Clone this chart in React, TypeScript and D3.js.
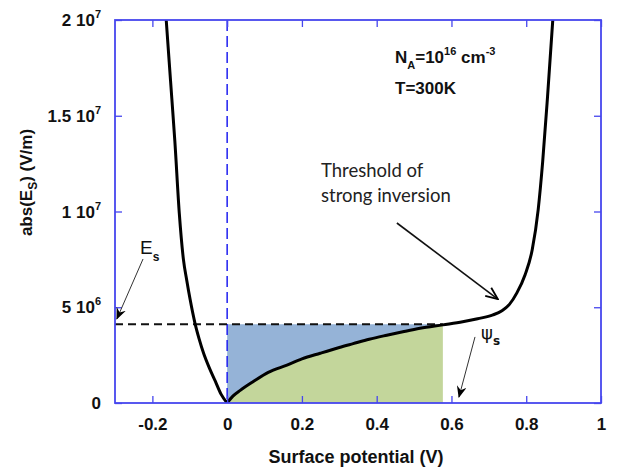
import React, { useRef, useEffect } from "react";
import * as d3 from "d3";

// accumulation branch (psi < 0)
const leftPsi = [-0.163, -0.155, -0.148, -0.14, -0.128, -0.117, -0.108, -0.099, -0.086, -0.075, -0.063, -0.048, -0.032, -0.016, 0];
const leftField = [2.0e7, 1.78e7, 1.59e7, 1.37e7, 9.9e6, 7.5e6, 6.4e6, 5.4e6, 4.16e6, 3.35e6, 2.6e6, 1.85e6, 1.15e6, 4.5e5, 0];

// depletion / inversion branch (psi > 0)
const rightPsi = [0, 0.016, 0.035, 0.07, 0.11, 0.16, 0.2, 0.249, 0.3, 0.337, 0.38, 0.427, 0.47, 0.516, 0.577, 0.63, 0.67, 0.711, 0.735, 0.755, 0.775, 0.797, 0.816, 0.832, 0.844, 0.857, 0.871];
const rightField = [0, 3.7e5, 6.6e5, 1.12e6, 1.6e6, 1.98e6, 2.3e6, 2.6e6, 2.9e6, 3.1e6, 3.33e6, 3.54e6, 3.72e6, 3.9e6, 4.08e6, 4.24e6, 4.4e6, 4.6e6, 4.82e6, 5.15e6, 5.75e6, 6.7e6, 8.0e6, 1.01e7, 1.26e7, 1.6e7, 2.0e7];

const xTicks = [-0.2, 0, 0.2, 0.4, 0.6, 0.8, 1];
const xTickLabels = ["-0.2", "0", "0.2", "0.4", "0.6", "0.8", "1"];
const yTicks = [0, 5e6, 1e7, 1.5e7, 2e7];
const yTickMantissa = ["0", "5", "1", "1.5", "2"];
const yTickExponent = ["", "6", "7", "7", "7"];

// operating point
const surfacePsi = 0.577;
const surfaceField = 4.11e6;

const FRAME = "#4646ee";
const FONT = "'Liberation Sans', Arial, sans-serif";

const App = () => {
  const svgRef = useRef<SVGSVGElement>(null);

  useEffect(() => {
    const svg = d3.select(svgRef.current);
    svg.selectAll("*").remove();

    const margin = { top: 20, left: 115, right: 16, bottom: 69 };
    const W = 617, H = 472;

    const x = d3.scaleLinear().domain([-0.3, 1]).range([margin.left, W - margin.right]);
    const y = d3.scaleLinear().domain([0, 2e7]).range([H - margin.bottom, margin.top]);

    const left = leftPsi.map((p, i) => ({ psi: p, e: leftField[i] }));
    const right = rightPsi.map((p, i) => ({ psi: p, e: rightField[i] }));
    const filled = right.filter((d) => d.psi <= surfacePsi);

    // markers
    const defs = svg.append("defs");
    defs.append("clipPath").attr("id", "plotclip")
      .append("rect")
      .attr("x", x(-0.3)).attr("y", y(2e7))
      .attr("width", x(1) - x(-0.3)).attr("height", y(0) - y(2e7));
    defs.append("marker")
      .attr("id", "barb").attr("viewBox", "0 0 12 10")
      .attr("refX", 11).attr("refY", 5)
      .attr("markerWidth", 12).attr("markerHeight", 10)
      .attr("markerUnits", "userSpaceOnUse")
      .attr("orient", "auto")
      .append("path").attr("d", "M0,0 L12,5 L0,10 L4,5 Z").attr("fill", "black");
    defs.append("marker")
      .attr("id", "openarrow").attr("viewBox", "0 0 14 12")
      .attr("refX", 13).attr("refY", 6)
      .attr("markerWidth", 14).attr("markerHeight", 12)
      .attr("markerUnits", "userSpaceOnUse")
      .attr("orient", "auto")
      .append("path").attr("d", "M1,1 L13,6 L1,11").attr("fill", "none")
      .attr("stroke", "black").attr("stroke-width", 1.8);

    const plot = svg.append("g").attr("clip-path", "url(#plotclip)");

    // blue area: between E_s level and curve
    plot.append("path")
      .datum(filled)
      .attr("fill", "#95b3d7")
      .attr("d", d3.area<any>()
        .x((d) => x(d.psi))
        .y0(y(surfaceField))
        .y1((d) => y(d.e))
        .curve(d3.curveMonotoneX));

    // green area: under the curve
    plot.append("path")
      .datum(filled)
      .attr("fill", "#c3d69b")
      .attr("d", d3.area<any>()
        .x((d) => x(d.psi))
        .y0(y(0))
        .y1((d) => y(d.e))
        .curve(d3.curveMonotoneX));

    // vertical blue dashed line at psi = 0
    plot.append("line")
      .attr("x1", x(0)).attr("x2", x(0))
      .attr("y1", y(2e7)).attr("y2", y(0))
      .attr("stroke", "#1f1ff0").attr("stroke-width", 1.5)
      .attr("stroke-dasharray", "11,5");

    // horizontal black dashed line at E_s
    plot.append("line")
      .attr("x1", x(-0.3)).attr("x2", x(surfacePsi))
      .attr("y1", y(surfaceField)).attr("y2", y(surfaceField))
      .attr("stroke", "#111").attr("stroke-width", 2)
      .attr("stroke-dasharray", "8,5");

    const line = d3.line<any>()
      .x((d) => x(d.psi))
      .y((d) => y(d.e))
      .curve(d3.curveMonotoneX);

    [left, right].forEach((branch) => {
      plot.append("path")
        .datum(branch)
        .attr("fill", "none")
        .attr("stroke", "black")
        .attr("stroke-width", 3)
        .attr("stroke-linejoin", "round")
        .attr("d", line);
    });

    // axes: inward ticks on all four sides
    const tick = 7;
    const gB = svg.append("g").attr("transform", `translate(0,${y(0)})`)
      .call(d3.axisBottom(x).tickValues(xTicks).tickSize(-tick).tickPadding(15)
        .tickFormat((d: any, i: number) => xTickLabels[i]));
    const gT = svg.append("g").attr("transform", `translate(0,${y(2e7)})`)
      .call(d3.axisTop(x).tickValues(xTicks).tickSize(-tick).tickFormat(() => ""));
    const gL = svg.append("g").attr("transform", `translate(${x(-0.3)},0)`)
      .call(d3.axisLeft(y).tickValues(yTicks).tickSize(-tick).tickFormat(() => ""));
    const gR = svg.append("g").attr("transform", `translate(${x(1)},0)`)
      .call(d3.axisRight(y).tickValues(yTicks).tickSize(-tick).tickFormat(() => ""));
    [gB, gT, gL, gR].forEach((g) => {
      g.select(".domain").remove();
      g.selectAll(".tick line").attr("stroke", FRAME).attr("stroke-width", 1.3);
    });
    gB.selectAll(".tick text")
      .attr("fill", "#111")
      .style("font-family", FONT)
      .style("font-weight", "bold")
      .style("font-size", "17px");

    // frame
    svg.append("rect")
      .attr("x", x(-0.3)).attr("y", y(2e7))
      .attr("width", x(1) - x(-0.3)).attr("height", y(0) - y(2e7))
      .attr("fill", "none").attr("stroke", FRAME).attr("stroke-width", 1.8);

    // y tick labels with powers of ten
    yTicks.forEach((v, i) => {
      const t = svg.append("text")
        .attr("x", x(-0.3) - 14).attr("y", y(v) + 6)
        .attr("text-anchor", "end")
        .style("font-family", FONT).style("font-weight", "bold").style("font-size", "17px")
        .attr("fill", "#111");
      if (yTickExponent[i]) {
        t.append("tspan").text(yTickMantissa[i] + " 10");
        t.append("tspan").attr("dy", -8).style("font-size", "11px").text(yTickExponent[i]);
      } else {
        t.text(yTickMantissa[i]);
      }
    });

    // axis titles
    svg.append("text")
      .attr("x", (x(-0.3) + x(1)) / 2 - 2).attr("y", 463)
      .attr("text-anchor", "middle")
      .style("font-family", FONT).style("font-weight", "bold").style("font-size", "18px")
      .attr("fill", "#111")
      .text("Surface potential (V)");

    const yt = svg.append("text")
      .attr("transform", `translate(32,${(y(0) + y(2e7)) / 2 - 29}) rotate(-90)`)
      .attr("text-anchor", "middle")
      .style("font-family", FONT).style("font-weight", "bold").style("font-size", "17px")
      .attr("fill", "#111");
    yt.append("tspan").text("abs(E");
    yt.append("tspan").attr("dy", 5).style("font-size", "12px").text("S");
    yt.append("tspan").attr("dy", -5).text(") (V/m)");

    // parameters
    const np = svg.append("text")
      .attr("x", 395).attr("y", 63)
      .style("font-family", FONT).style("font-weight", "bold").style("font-size", "17px")
      .attr("fill", "#111");
    np.append("tspan").text("N");
    np.append("tspan").attr("dy", 6).style("font-size", "11px").text("A");
    np.append("tspan").attr("dy", -6).text("=10");
    np.append("tspan").attr("dy", -8).style("font-size", "11px").text("16");
    np.append("tspan").attr("dy", 8).text(" cm");
    np.append("tspan").attr("dy", -8).style("font-size", "11px").text("-3");

    svg.append("text")
      .attr("x", 395).attr("y", 94)
      .style("font-family", FONT).style("font-weight", "bold").style("font-size", "17px")
      .attr("fill", "#111")
      .text("T=300K");

    // threshold annotation
    const th = svg.append("text")
      .style("font-family", "Lato, 'Open Sans', sans-serif").style("font-size", "18.5px")
      .attr("fill", "#222");
    th.append("tspan").attr("x", 321).attr("y", 177).text("Threshold of");
    th.append("tspan").attr("x", 321).attr("y", 202).text("strong inversion");

    svg.append("line")
      .attr("x1", x(0.454)).attr("y1", y(9.4e6))
      .attr("x2", x(0.724)).attr("y2", y(5.43e6))
      .attr("stroke", "#111").attr("stroke-width", 1.6)
      .attr("marker-end", "url(#openarrow)");

    // E_s label and arrow
    const es = svg.append("text")
      .attr("x", 140).attr("y", 254)
      .style("font-family", FONT).style("font-size", "19px")
      .attr("fill", "#111");
    es.append("tspan").text("E");
    es.append("tspan").attr("dy", 7).style("font-size", "12px").style("font-weight", "bold").text("s");

    svg.append("line")
      .attr("x1", x(-0.225)).attr("y1", y(7.52e6))
      .attr("x2", x(-0.295)).attr("y2", y(4.39e6))
      .attr("stroke", "#333").attr("stroke-width", 1)
      .attr("marker-end", "url(#barb)");

    // psi_s label and arrow
    const ps = svg.append("text")
      .attr("x", 481).attr("y", 339)
      .style("font-family", "'DejaVu Sans', sans-serif").style("font-size", "18px")
      .attr("fill", "#111");
    ps.append("tspan").text("ψ");
    ps.append("tspan").attr("dy", 6).style("font-size", "12px").style("font-weight", "bold").text("s");

    svg.append("line")
      .attr("x1", x(0.663)).attr("y1", y(3.45e6))
      .attr("x2", x(0.62)).attr("y2", y(3.1e5))
      .attr("stroke", "#333").attr("stroke-width", 1)
      .attr("marker-end", "url(#barb)");
  }, []);

  return (
    <svg
      ref={svgRef}
      width={617}
      height={472}
      style={{ position: "absolute", left: 0, top: 0, background: "white" }}
    ></svg>
  );
};

export default App;
